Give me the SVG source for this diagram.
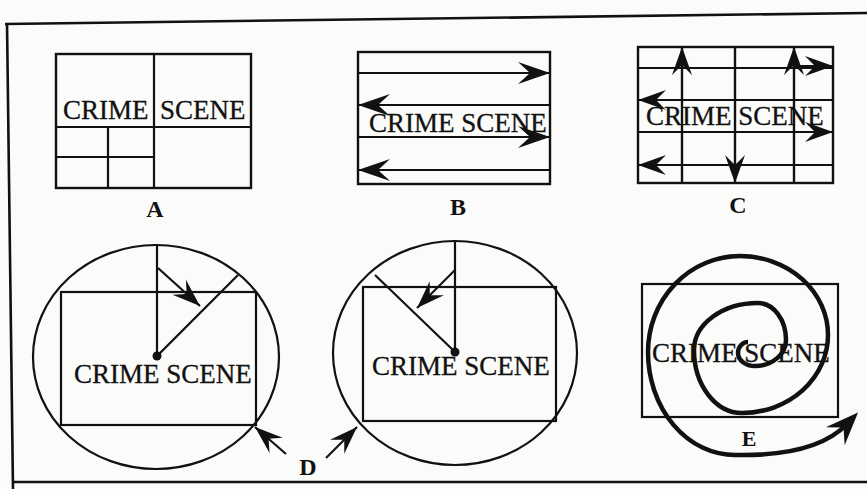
<svg xmlns="http://www.w3.org/2000/svg" width="867" height="489" viewBox="0 0 867 489">
<style>
.bg{fill:#fbfbf9}
.frame{fill:none;stroke:#111;stroke-width:2.6}
.box{fill:none;stroke:#111;stroke-width:2.4}
.grid{fill:none;stroke:#111;stroke-width:2.2}
.ring{fill:none;stroke:#111;stroke-width:2.2}
.arr{fill:none;stroke:#111;stroke-width:2.2}
.spiral{fill:none;stroke:#111;stroke-width:4.5;stroke-linejoin:round}
.t{font-family:"Liberation Serif","Times New Roman",serif;font-size:27px;fill:#111;stroke:#111;stroke-width:0.3}
.lab{font-family:"Liberation Serif","Times New Roman",serif;font-weight:bold;font-size:24px;fill:#111;text-anchor:middle}
</style>
<defs>
<marker id="barb" markerUnits="userSpaceOnUse" viewBox="-33 -12 34 24" markerWidth="34" markerHeight="24" refX="0" refY="0" orient="auto" overflow="visible">
<path d="M0,0 L-32,-11 L-20,0 L-32,11 Z" fill="#111"/>
</marker>
<marker id="barbS" markerUnits="userSpaceOnUse" viewBox="-29 -10 30 20" markerWidth="30" markerHeight="20" refX="0" refY="0" orient="auto" overflow="visible">
<path d="M0,0 L-28,-10 L-18,0 L-28,10 Z" fill="#111"/>
</marker>
<marker id="barbE" markerUnits="userSpaceOnUse" viewBox="-31 -13 42 26" markerWidth="42" markerHeight="26" refX="-8" refY="0" orient="auto" overflow="visible">
<path d="M8,0 L-25,-13 L-13,0 L-25,13 Z" fill="#111"/>
</marker>
</defs>
<rect class="bg" x="0" y="0" width="867" height="489"/>
<g id="frame">
<path class="frame" d="M5,24 L867,13"/>
<path class="frame" d="M7,23 L13,489"/>
<path class="frame" d="M12,482 L867,482"/>
</g>
<g id="panel-A">
<rect class="box" x="56" y="54" width="195" height="134"/>
<path class="grid" d="M154,54 V188 M56,127 H251 M108,127 V188 M56,157 H154"/>
<text class="t" x="63" y="119">CRIME</text>
<text class="t" x="160" y="119">SCENE</text>
<text class="lab" x="155" y="217">A</text>
</g>
<g id="panel-B">
<rect class="box" x="358" y="52" width="192" height="132"/>
<text class="t" x="369" y="132">CRIME SCENE</text>
<text class="lab" x="458" y="215">B</text>
</g>
<g id="panel-C">
<rect class="box" x="638" y="47" width="195" height="136"/>
<path class="grid" d="M638,68 H833 M638,100 H833 M638,132 H833 M638,165 H833 M682,47 V183 M735,47 V183 M794,47 V183"/>
<text class="t" x="646" y="125">CRIME SCENE</text>
<text class="lab" x="738" y="213">C</text>
</g>
<g id="panel-D-left">
<ellipse class="ring" cx="156" cy="357" rx="123" ry="112"/>
<rect class="grid" x="61" y="292" width="195" height="133"/>
<path class="grid" d="M157,245 V356 L238,275"/>
<circle cx="157" cy="356" r="4.5" fill="#111"/>
<text class="t" x="74" y="383">CRIME SCENE</text>
</g>
<g id="panel-D-right">
<ellipse class="ring" cx="455" cy="353" rx="122" ry="112"/>
<rect class="grid" x="363" y="287" width="193" height="134"/>
<path class="grid" d="M455,241 V352 L375,275"/>
<circle cx="455" cy="352" r="4.5" fill="#111"/>
<text class="t" x="372" y="375">CRIME SCENE</text>
<text class="lab" x="308" y="475">D</text>
</g>
<g id="panel-E">
<rect class="grid" x="642" y="284" width="196" height="133"/>
<text class="t" x="652" y="362">CRIME SCENE</text>
<text class="lab" x="749" y="446" style="font-size:22px">E</text>
</g>
<g id="connectors">
<path class="arr" d="M358,73 H550" marker-end="url(#barb)"/>
<path class="arr" d="M550,105 H358" marker-end="url(#barb)"/>
<path class="arr" d="M358,137 H550" marker-end="url(#barb)"/>
<path class="arr" d="M550,170 H358" marker-end="url(#barb)"/>
<path class="arr" d="M682,183 V47" marker-end="url(#barbS)"/>
<path class="arr" d="M794,183 V47" marker-end="url(#barbS)"/>
<path class="arr" d="M794,66 H833" marker-end="url(#barbS)"/>
<path class="arr" d="M833,100 H638" marker-end="url(#barbS)"/>
<path class="arr" d="M638,132 H833" marker-end="url(#barbS)"/>
<path class="arr" d="M735,47 V183" marker-end="url(#barbS)"/>
<path class="arr" d="M833,165 H638" marker-end="url(#barbS)"/>
<path class="arr" d="M158,268 L200,306" marker-end="url(#barbS)"/>
<path class="arr" d="M455,270 L417,308" marker-end="url(#barbS)"/>
<path class="arr" d="M286,454 L255,427" marker-end="url(#barbS)"/>
<path class="arr" d="M326,458 L357,427" marker-end="url(#barbS)"/>
<path class="spiral" d="M748,342 A10,11 0 0 0 738,353 A17,13 0 0 0 755,366 A31,26 0 0 0 786,340 A28,37 0 0 0 758,303 A64,47 0 0 0 694,350 A48,63 0 0 0 742,413 A86,78 0 0 0 828,335 A88,79 0 0 0 740,256 A92,96 0 0 0 648,352 A87,103 0 0 0 735,455 C785,456 825,447 847,424" marker-end="url(#barbE)"/>
</g>
</svg>
